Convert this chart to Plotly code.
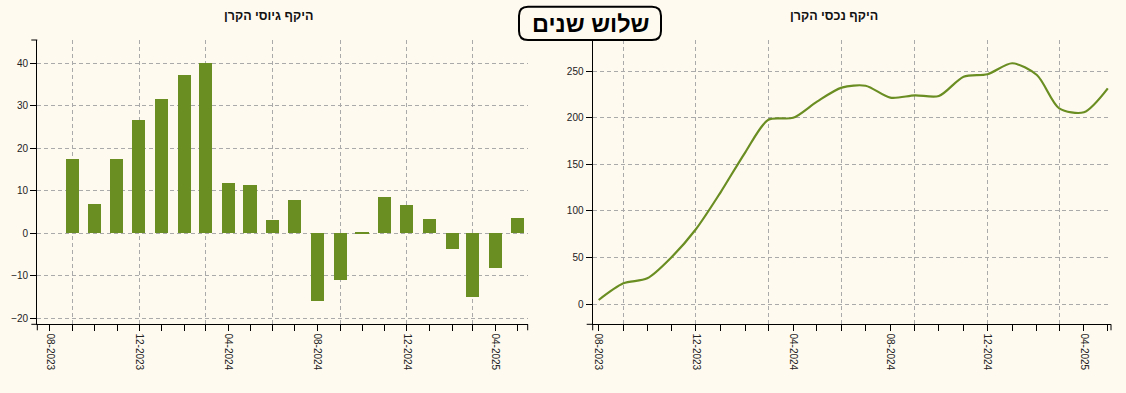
import plotly.graph_objects as go

# ---------------- data ----------------
months = [
    "2023-08-01", "2023-09-01", "2023-10-01", "2023-11-01", "2023-12-01",
    "2024-01-01", "2024-02-01", "2024-03-01", "2024-04-01", "2024-05-01",
    "2024-06-01", "2024-07-01", "2024-08-01", "2024-09-01", "2024-10-01",
    "2024-11-01", "2024-12-01", "2025-01-01", "2025-02-01", "2025-03-01",
    "2025-04-01", "2025-05-01",
]
# monthly fund raising (left chart)
flows = [None, 17.4, 6.9, 17.4, 26.7, 31.6, 37.2, 40.1, 11.8, 11.4, 3.1, 7.8,
         -15.9, -11.0, 0.3, 8.6, 6.7, 3.4, -3.7, -15.0, -8.2, 3.6]
# fund assets (right chart)
assets = [4.3, 22.2, 27.6, 50.8, 80.3, 120.0, 163.0, 198.0, 200.0, 217.4,
          232.4, 234.5, 221.7, 224.2, 223.5, 244.2, 246.8, 258.6, 246.0,
          210.2, 206.0, 231.7]

main_title = "שלוש שנים"
left_title = "היקף גיוסי הקרן"
right_title = "היקף נכסי הקרן"
tick_format = "%m-%Y"

# ---------------- styling / layout ----------------
W, H = 1126, 393
BG = "#fffaf0"
GREEN = "#6b8e23"
GRID = "#aaaaaa"
FONT = "Liberation Sans, Arial, sans-serif"
BAR_DAYS = 17.8

def px(x):
    return x / W

def py(y):
    return 1 - y / H

left_dom = [px(37.3), px(527.7)]
right_dom = [px(592.7), px(1111.0)]
ydom = [py(324.3), py(40.0)]

left_xrange = ["2023-07-15", "2025-05-15"]
right_xrange = ["2023-07-24 12:00", "2025-05-05"]
left_yrange = [-21.4, 45.5]
right_yrange = [-21.8, 283.6]

fig = go.Figure()

fig.add_trace(go.Bar(
    x=months, y=flows, marker_color=GREEN, marker_line_width=0,
    width=BAR_DAYS * 86400000, xaxis="x", yaxis="y",
    showlegend=False, hoverinfo="x+y",
))
fig.add_trace(go.Scatter(
    x=months, y=assets, mode="lines",
    line=dict(color=GREEN, width=2.2, shape="spline", smoothing=0.8),
    xaxis="x2", yaxis="y2", showlegend=False,
))
# ghost traces so the grid-only overlay axes are drawn
fig.add_trace(go.Scatter(x=months, y=[None] * len(months), xaxis="x3", yaxis="y",
                         showlegend=False, hoverinfo="skip"))
fig.add_trace(go.Scatter(x=months, y=[None] * len(months), xaxis="x4", yaxis="y2",
                         showlegend=False, hoverinfo="skip"))

tickfont = dict(family=FONT, size=10, color="#222")

def date_axis(dom, rng, anchor):
    return dict(
        type="date", domain=dom, range=rng, anchor=anchor,
        showgrid=False, zeroline=False,
        showline=True, linecolor="black", linewidth=1.3,
        tick0=months[0], dtick="M4", tickformat=tick_format,
        ticks="outside", ticklen=6, tickcolor="black", tickwidth=1,
        tickangle=90, tickfont=tickfont,
        minor=dict(dtick="M1", tick0=months[0], ticks="outside", ticklen=6,
                   tickcolor="black", tickwidth=1, showgrid=False),
        fixedrange=True,
    )

def grid_axis(over, rng, anchor):
    return dict(
        type="date", overlaying=over, anchor=anchor, range=rng,
        tick0=months[1], dtick="M3", showgrid=True, gridcolor=GRID,
        gridwidth=1, griddash="4px,3px", showticklabels=False, ticks="",
        showline=False, zeroline=False, fixedrange=True,
    )

def value_axis(dom, rng, dtick, anchor):
    return dict(
        domain=dom, range=rng, anchor=anchor, dtick=dtick, tick0=0,
        showgrid=True, gridcolor=GRID, gridwidth=1, griddash="4px,3px",
        zeroline=False, showline=True, linecolor="black", linewidth=1.3,
        ticks="outside", ticklen=6, tickcolor="black", tickwidth=1,
        tickfont=tickfont, fixedrange=True,
    )

fig.update_layout(
    width=W, height=H, autosize=False,
    margin=dict(l=0, r=0, t=0, b=0, pad=0),
    paper_bgcolor=BG, plot_bgcolor=BG,
    bargap=0,
    xaxis=date_axis(left_dom, left_xrange, "y"),
    yaxis=value_axis(ydom, left_yrange, 10, "x"),
    xaxis2=date_axis(right_dom, right_xrange, "y2"),
    yaxis2=value_axis(ydom, right_yrange, 50, "x2"),
    xaxis3=grid_axis("x", left_xrange, "y"),
    xaxis4=grid_axis("x2", right_xrange, "y2"),
)

# outer (domain-end) ticks, d3 style
shapes = []
for dom in (left_dom, right_dom):
    x0, x1 = dom
    for yv in ydom:
        shapes.append(dict(type="line", xref="paper", yref="paper",
                           x0=x0 - 6 / W, x1=x0, y0=yv, y1=yv,
                           line=dict(color="black", width=1)))
    for xv in dom:
        shapes.append(dict(type="line", xref="paper", yref="paper",
                           x0=xv, x1=xv, y0=ydom[0], y1=ydom[0] - 6 / H,
                           line=dict(color="black", width=1)))

# rounded title box
bx0, bx1, by0, by1, r = 519, 661, 6.7, 40, 9
pts = [
    ("M", bx0 + r, by0), ("L", bx1 - r, by0), ("Q", bx1, by0, bx1, by0 + r),
    ("L", bx1, by1 - r), ("Q", bx1, by1, bx1 - r, by1), ("L", bx0 + r, by1),
    ("Q", bx0, by1, bx0, by1 - r), ("L", bx0, by0 + r), ("Q", bx0, by0, bx0 + r, by0),
]
path = ""
for p in pts:
    cmd, coords = p[0], p[1:]
    parts = []
    for i in range(0, len(coords), 2):
        parts.append(f"{px(coords[i]):.6f},{py(coords[i + 1]):.6f}")
    path += cmd + " ".join(parts) + " "
path += "Z"
shapes.append(dict(type="path", xref="paper", yref="paper", path=path,
                   fillcolor=BG, line=dict(color="black", width=2), layer="above"))
fig.update_layout(shapes=shapes)

fig.add_annotation(text=f"<b>{main_title}</b>", xref="paper", yref="paper",
                   x=px(590.5), y=py(23.5), xanchor="center", yanchor="middle",
                   showarrow=False, font=dict(family=FONT, size=23.5, color="black"))
fig.add_annotation(text=f"<b>{left_title}</b>", xref="paper", yref="paper",
                   x=px(268), y=py(16), xanchor="center", yanchor="middle",
                   showarrow=False, font=dict(family=FONT, size=12.5, color="#111"))
fig.add_annotation(text=f"<b>{right_title}</b>", xref="paper", yref="paper",
                   x=px(834), y=py(16), xanchor="center", yanchor="middle",
                   showarrow=False, font=dict(family=FONT, size=12.5, color="#111"))

fig.write_html("out.html", config={"displayModeBar": False})
